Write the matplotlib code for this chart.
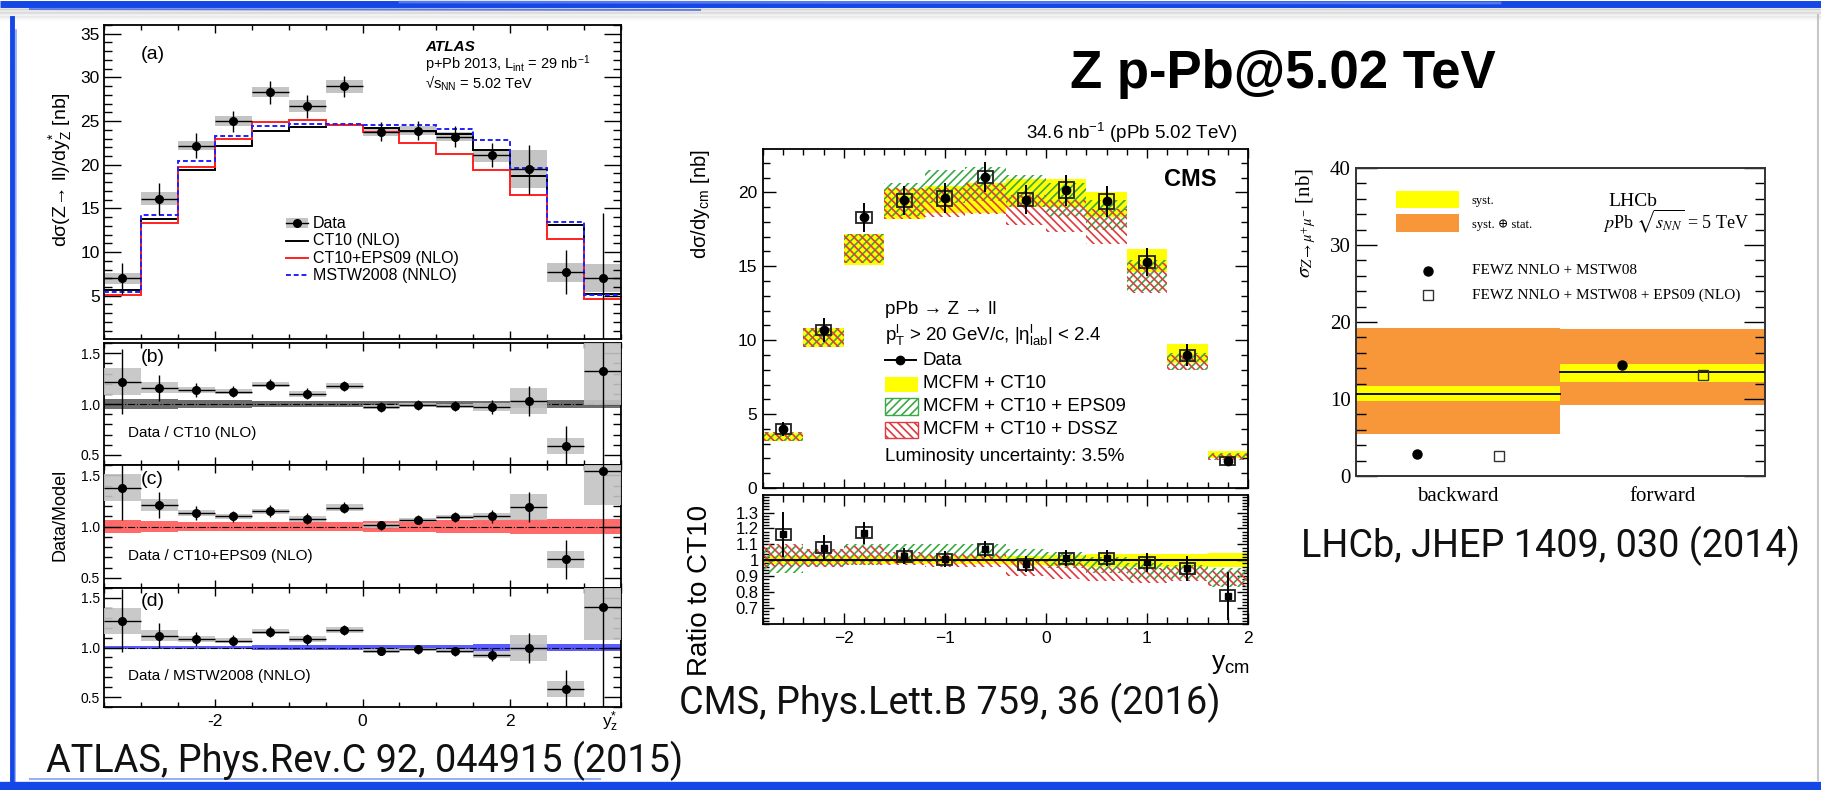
import numpy as np
import matplotlib
matplotlib.use("Agg")
import matplotlib.pyplot as plt
from matplotlib.patches import Rectangle
from matplotlib.lines import Line2D
from matplotlib.ticker import MultipleLocator, FixedLocator, NullFormatter, FuncFormatter

plt.rcParams["font.family"] = ["Liberation Sans", "DejaVu Sans"]
plt.rcParams["mathtext.fontset"] = "stix"
plt.rcParams["hatch.linewidth"] = 1.2
plt.rcParams["axes.unicode_minus"] = True

W, H = 1821, 790

# ---------------- ATLAS (Phys.Rev.C 92, 044915) ----------------
atlas_edges = [-3.5, -3.0, -2.5, -2.0, -1.5, -1.0, -0.5, 0.0, 0.5, 1.0, 1.5, 2.0, 2.5, 3.0, 3.5]
atlas_data = [7.0, 16.1, 22.2, 25.0, 28.3, 26.7, 29.0, 23.8, 23.9, 23.2, 21.1, 19.5, 7.7, 7.05]
atlas_stat = [1.8, 1.8, 1.4, 1.2, 1.3, 1.3, 1.2, 1.1, 1.1, 1.2, 1.4, 2.8, 2.5, 7.4]
atlas_syst = [0.6, 0.75, 0.55, 0.55, 0.6, 0.7, 0.75, 0.5, 0.5, 0.5, 0.75, 2.2, 1.1, 1.6]
atlas_ct10 = [5.65, 13.8, 19.4, 22.2, 23.9, 24.3, 24.6, 24.2, 23.9, 23.55, 21.7, 18.7, 13.1, 5.25]
atlas_eps09 = [5.05, 13.3, 19.7, 22.9, 24.9, 25.1, 24.6, 23.7, 22.5, 21.25, 19.4, 16.55, 11.45, 4.6]
atlas_mstw = [5.45, 14.25, 20.45, 23.25, 24.4, 24.65, 24.65, 24.6, 24.5, 24.1, 22.8, 19.6, 13.4, 5.05]

ratio_ct10 = [1.22, 1.16, 1.14, 1.12, 1.19, 1.10, 1.18, 0.97, 0.99, 0.98, 0.97, 1.03, 0.59, 1.32]
ratio_eps09 = [1.38, 1.21, 1.13, 1.10, 1.15, 1.075, 1.185, 1.01, 1.065, 1.09, 1.10, 1.19, 0.68, 1.54]
ratio_mstw = [1.27, 1.12, 1.085, 1.07, 1.16, 1.085, 1.18, 0.965, 0.98, 0.96, 0.925, 0.995, 0.58, 1.405]
ratio_stat = [0.32, 0.13, 0.07, 0.055, 0.055, 0.055, 0.05, 0.045, 0.045, 0.05, 0.065, 0.15, 0.19, 1.4]
ratio_syst = [0.13, 0.055, 0.03, 0.025, 0.025, 0.03, 0.03, 0.02, 0.02, 0.02, 0.035, 0.13, 0.08, 0.33]
band_ct10 = [0.048, 0.045, 0.04, 0.035, 0.03, 0.028, 0.027, 0.027, 0.027, 0.03, 0.032, 0.035, 0.04, 0.04]
band_eps09 = [0.065, 0.055, 0.045, 0.044, 0.044, 0.044, 0.045, 0.05, 0.055, 0.06, 0.065, 0.07, 0.077, 0.077]
band_mstw = [0.018, 0.018, 0.02, 0.02, 0.022, 0.024, 0.025, 0.027, 0.028, 0.03, 0.032, 0.034, 0.037, 0.037]

# ---------------- CMS (Phys.Lett.B 759, 36) ----------------
cms_edges = [-2.8, -2.4, -2.0, -1.6, -1.2, -0.8, -0.4, 0.0, 0.4, 0.8, 1.2, 1.6, 2.0]
cms_data = [4.0, 10.7, 18.3, 19.45, 19.6, 21.05, 19.5, 20.15, 19.4, 15.3, 8.98, 1.83]
cms_stat = [0.45, 0.8, 1.0, 1.0, 1.0, 1.0, 1.0, 1.05, 1.05, 0.95, 0.75, 0.3]
cms_syst = [0.33, 0.35, 0.4, 0.45, 0.5, 0.42, 0.45, 0.55, 0.5, 0.42, 0.38, 0.25]
cms_ct10_lo = [3.2, 9.55, 15.1, 18.2, 18.6, 18.6, 19.0, 19.0, 18.35, 14.6, 8.45, 2.0]
cms_ct10_hi = [3.75, 10.85, 17.2, 20.2, 20.4, 20.6, 20.9, 20.9, 20.0, 16.15, 9.75, 2.5]
cms_eps09_lo = [3.2, 9.55, 15.2, 18.4, 19.3, 19.4, 19.0, 18.3, 17.45, 13.3, 7.97, 1.87]
cms_eps09_hi = [3.8, 10.85, 17.2, 20.6, 21.5, 21.7, 21.15, 20.6, 19.5, 15.45, 9.1, 2.35]
cms_dssz_lo = [3.2, 9.55, 15.2, 18.2, 18.3, 18.5, 17.8, 17.3, 16.5, 13.2, 7.97, 1.9]
cms_dssz_hi = [3.8, 10.85, 17.2, 20.3, 20.3, 20.6, 19.8, 19.5, 18.9, 15.2, 9.0, 2.3]

cms_ratio = [1.163, 1.078, 1.172, 1.025, 1.006, 1.07, 0.975, 1.013, 1.013, 0.987, 0.95, 0.778]
cms_ratio_err = [0.14, 0.08, 0.07, 0.05, 0.05, 0.05, 0.05, 0.05, 0.05, 0.06, 0.08, 0.15]
cms_ratio_syst = [0.035, 0.035, 0.035, 0.035, 0.035, 0.035, 0.035, 0.035, 0.035, 0.035, 0.035, 0.035]
cms_rct10_lo = [0.975, 0.975, 0.975, 0.975, 0.975, 0.975, 0.97, 0.965, 0.96, 0.96, 0.96, 0.955]
cms_rct10_hi = [1.025, 1.025, 1.025, 1.025, 1.025, 1.025, 1.03, 1.035, 1.04, 1.04, 1.04, 1.045]
cms_reps_lo = [0.92, 0.96, 0.97, 0.99, 0.99, 1.0, 0.98, 0.95, 0.92, 0.88, 0.88, 0.83]
cms_reps_hi = [1.09, 1.07, 1.1, 1.1, 1.1, 1.1, 1.07, 1.05, 1.02, 0.98, 0.97, 0.95]
cms_rdssz_lo = [0.96, 0.96, 0.97, 0.97, 0.96, 0.96, 0.9, 0.88, 0.87, 0.86, 0.87, 0.84]
cms_rdssz_hi = [1.1, 1.07, 1.09, 1.05, 1.04, 1.04, 1.0, 0.98, 0.96, 0.95, 0.96, 0.93]

# ---------------- LHCb (JHEP 1409, 030) ----------------
lhcb_cats = ["backward", "forward"]
lhcb_val = [10.7, 13.5]
lhcb_syst_lo = [9.76, 12.25]
lhcb_syst_hi = [11.65, 14.6]
lhcb_tot_lo = [5.4, 9.2]
lhcb_tot_hi = [19.2, 19.05]
lhcb_fewz = [2.8, 14.45]
lhcb_fewz_eps09 = [2.6, 13.1]

fig = plt.figure(figsize=(W / 100, H / 100), dpi=100)
fig.patch.set_facecolor("white")


def rect(l, t, r, b):
    return [l / W, 1 - b / H, (r - l) / W, (b - t) / H]


def ftext(x, y, s, **kw):
    return fig.text(x / W, 1 - y / H, s, **kw)


def root_ticks(ax, ymaj, ymin, xmaj, xmin, ylen=12, xlen=6):
    ax.tick_params(which="both", direction="in", top=True, right=True, width=1.0, colors="k")
    ax.tick_params(axis="y", which="major", length=ylen)
    ax.tick_params(axis="y", which="minor", length=ylen * 0.5)
    ax.tick_params(axis="x", which="major", length=xlen)
    ax.tick_params(axis="x", which="minor", length=xlen * 0.65)
    ax.yaxis.set_major_locator(ymaj)
    ax.yaxis.set_minor_locator(ymin)
    ax.xaxis.set_major_locator(xmaj)
    ax.xaxis.set_minor_locator(xmin)
    for s in ax.spines.values():
        s.set_linewidth(1.3)


# ================= ATLAS =================
edges = np.array(atlas_edges)
centers = 0.5 * (edges[1:] + edges[:-1])
data = np.array(atlas_data)
gray = "#c4c4c4"

axa = fig.add_axes(rect(104, 25, 621, 339))
axa.bar(centers, 2 * np.array(atlas_syst), bottom=data - np.array(atlas_syst),
        width=0.5, color=gray, lw=0, zorder=1)
axa.stairs(atlas_ct10, edges, baseline=None, color="k", lw=1.4, zorder=2)
axa.stairs(atlas_eps09, edges, baseline=None, color="#ff2020", lw=1.4, zorder=2)
axa.stairs(atlas_mstw, edges, baseline=None, color="#2020ff", lw=1.4, ls=(0, (2.5, 1.5)), zorder=3)
axa.errorbar(centers, data, yerr=atlas_stat, xerr=0.25, fmt="o", color="k", ms=5.5,
             elinewidth=1.0, capsize=0, zorder=4)
axa.set_xlim(-3.5, 3.5)
axa.set_ylim(0.05, 36)
root_ticks(axa, MultipleLocator(5), MultipleLocator(1), FixedLocator([-2, 0, 2]), MultipleLocator(0.5))
axa.set_yticks([5, 10, 15, 20, 25, 30, 35])
axa.xaxis.set_major_formatter(NullFormatter())
axa.tick_params(axis="y", labelsize=12.5, pad=3)
axa.text(-3.0, 32.6, "(a)", fontsize=14, va="center")
axa.text(0.85, 33.5, "ATLAS", fontsize=11, weight="bold", style="italic", va="center")
axa.text(0.85, 31.5, r"p+Pb 2013, L$\mathregular{_{int}}$ = 29 nb$\mathregular{^{-1}}$", fontsize=10.5, va="center")
axa.text(0.85, 29.35, r"√s$\mathregular{_{NN}}$ = 5.02 TeV", fontsize=10.5, va="center")

# legend drawn by hand
lgx = -1.04
axa.add_patch(Rectangle((lgx, 12.75), 0.3, 1.1, color=gray, lw=0))
axa.plot([lgx, lgx + 0.3], [13.3, 13.3], color="k", lw=1.0)
axa.plot([lgx + 0.15], [13.3], "o", color="k", ms=5.5)
axa.plot([lgx, lgx + 0.3], [11.3, 11.3], color="k", lw=1.4)
axa.plot([lgx, lgx + 0.3], [9.3, 9.3], color="#ff2020", lw=1.4)
axa.plot([lgx, lgx + 0.3], [7.33, 7.33], color="#2020ff", lw=1.4, ls=(0, (2.5, 1.5)))
for yy, s in zip([13.3, 11.3, 9.3, 7.33], ["Data", "CT10 (NLO)", "CT10+EPS09 (NLO)", "MSTW2008 (NNLO)"]):
    axa.text(lgx + 0.37, yy, s, fontsize=11.5, va="center")

ratio_specs = [
    (rect(104, 343, 621, 465), ratio_ct10, band_ct10, "#555555", 0.85, "Data / CT10 (NLO)", "(b)"),
    (rect(104, 465, 621, 588), ratio_eps09, band_eps09, "#ff5050", 0.85, "Data / CT10+EPS09 (NLO)", "(c)"),
    (rect(104, 588, 621, 707), ratio_mstw, band_mstw, "#4040ff", 0.85, "Data / MSTW2008 (NNLO)", "(d)"),
]
rsyst = np.array(ratio_syst)
for k, (pos, ratio, band, bcol, balpha, lab, tag) in enumerate(ratio_specs):
    ax = fig.add_axes(pos)
    ratio = np.array(ratio)
    band = np.array(band)
    ax.bar(centers, 2 * band, bottom=1 - band, width=0.5, color=bcol, alpha=balpha, lw=0, zorder=1)
    ax.axhline(1.0, color="k", lw=0.8, ls="-.", zorder=2)
    ax.bar(centers, 2 * rsyst, bottom=ratio - rsyst, width=0.5, color=gray, alpha=0.9, lw=0, zorder=3)
    ax.errorbar(centers, ratio, yerr=ratio_stat, xerr=0.25, fmt="o", color="k", ms=5.5,
                elinewidth=1.0, capsize=0, zorder=4)
    ax.set_xlim(-3.5, 3.5)
    ax.set_ylim(0.4, 1.6)
    root_ticks(ax, FixedLocator([0.5, 1.0, 1.5]), MultipleLocator(0.1),
               FixedLocator([-2, 0, 2]), MultipleLocator(0.5))
    ax.yaxis.set_major_formatter(FuncFormatter(lambda v, p: f"{v:.1f}"))
    ax.tick_params(axis="y", labelsize=10, pad=3)
    ax.text(-3.17, 0.71, lab, fontsize=11, va="center")
    ax.text(-3.0, 1.46, tag, fontsize=14, va="center")
    if k < 2:
        ax.xaxis.set_major_formatter(NullFormatter())
    else:
        ax.tick_params(axis="x", labelsize=12.5, pad=5)
        ax.set_xticklabels(["-2", "0", "2"])

ftext(61, 170, r"dσ(Z→ ll)/dy$\mathregular{^{*}_{Z}}$ [nb]", rotation=90, fontsize=14,
      ha="center", va="center")
ftext(60, 515, "Data/Model", rotation=90, fontsize=13, ha="center", va="center")
ftext(610, 722, r"y$\mathregular{^{*}_{z}}$", fontsize=12.5, ha="center", va="center")

# ================= CMS =================
cedges = np.array(cms_edges)
ccent = 0.5 * (cedges[1:] + cedges[:-1])
cwidth = 0.4
yellow = "#ffff00"
green = "#3aa845"
red = "#e0393e"

axc = fig.add_axes(rect(763, 149, 1248, 488))
lo, hi = np.array(cms_ct10_lo), np.array(cms_ct10_hi)
axc.bar(ccent, hi - lo, bottom=lo, width=cwidth, color=yellow, lw=0, zorder=1)
lo, hi = np.array(cms_eps09_lo), np.array(cms_eps09_hi)
axc.bar(ccent, hi - lo, bottom=lo, width=cwidth, facecolor="none", edgecolor=green, hatch="////", lw=0, zorder=2)
lo, hi = np.array(cms_dssz_lo), np.array(cms_dssz_hi)
axc.bar(ccent, hi - lo, bottom=lo, width=cwidth, facecolor="none", edgecolor=red, hatch="\\\\\\\\", lw=0, zorder=2)
for xc, yc, s in zip(ccent, cms_data, cms_syst):
    axc.add_patch(Rectangle((xc - 0.075, yc - s), 0.15, 2 * s, fill=False, ec="#222222", lw=1.3, zorder=4))
axc.errorbar(ccent, cms_data, yerr=cms_stat, fmt="o", color="k", ms=6, elinewidth=1.4, capsize=0, zorder=5)
axc.set_xlim(-2.8, 2.0)
axc.set_ylim(0, 22.93)
root_ticks(axc, MultipleLocator(5), MultipleLocator(1), MultipleLocator(1), MultipleLocator(0.2), ylen=9.5, xlen=6.5)
axc.xaxis.set_major_formatter(NullFormatter())
axc.tick_params(axis="y", labelsize=12.5, pad=4)
axc.text(1.69, 20.85, "CMS", fontsize=17, weight="bold", ha="right", va="center")

# CMS legend
lx = -1.59
axc.text(lx, 12.1, "pPb → Z → ll", fontsize=13.5, va="center")
axc.text(lx, 10.3, r"$\mathregular{p_{T}^{l}}$ > 20 GeV/c, $\mathregular{|η^{l}_{lab}|}$ < 2.4", fontsize=13.5, va="center")
axc.plot([lx, lx + 0.3], [8.65, 8.65], color="k", lw=1.4)
axc.plot([lx + 0.15], [8.65], "o", color="k", ms=6)
axc.text(-1.22, 8.65, "Data", fontsize=13.5, va="center")
axc.add_patch(Rectangle((lx, 6.5), 0.32, 1.0, color=yellow, lw=0))
axc.text(-1.22, 7.05, "MCFM + CT10", fontsize=13.5, va="center")
axc.add_patch(Rectangle((lx, 4.93), 0.32, 1.15, facecolor="none", edgecolor=green, hatch="////", lw=0))
axc.add_patch(Rectangle((lx, 4.93), 0.32, 1.15, fill=False, edgecolor=green, lw=1.0))
axc.text(-1.22, 5.5, "MCFM + CT10 + EPS09", fontsize=13.5, va="center")
axc.add_patch(Rectangle((lx, 3.35), 0.32, 1.12, facecolor="none", edgecolor=red, hatch="\\\\\\\\", lw=0))
axc.add_patch(Rectangle((lx, 3.35), 0.32, 1.12, fill=False, edgecolor=red, lw=1.0))
axc.text(-1.22, 3.95, "MCFM + CT10 + DSSZ", fontsize=13.5, va="center")
axc.text(lx, 2.15, "Luminosity uncertainty: 3.5%", fontsize=13.5, va="center")

ftext(1237, 133, r"34.6 nb$\mathregular{^{-1}}$ (pPb 5.02 TeV)", fontsize=13.5, ha="right", va="center")
ftext(700, 149, r"dσ/dy$\mathregular{_{cm}}$ [nb]", rotation=90, fontsize=14.5, ha="center", va="top")

axr = fig.add_axes(rect(763, 495, 1248, 624))
lo, hi = np.array(cms_rct10_lo), np.array(cms_rct10_hi)
axr.bar(ccent, hi - lo, bottom=lo, width=cwidth, color=yellow, lw=0, zorder=1)
lo, hi = np.array(cms_reps_lo), np.array(cms_reps_hi)
axr.bar(ccent, hi - lo, bottom=lo, width=cwidth, facecolor="none", edgecolor=green, hatch="////", lw=0, zorder=2)
lo, hi = np.array(cms_rdssz_lo), np.array(cms_rdssz_hi)
axr.bar(ccent, hi - lo, bottom=lo, width=cwidth, facecolor="none", edgecolor=red, hatch="\\\\\\\\", lw=0, zorder=2)
axr.axhline(1.0, color="k", lw=1.5, zorder=3)
for xc, yc, s in zip(ccent, cms_ratio, cms_ratio_syst):
    axr.add_patch(Rectangle((xc - 0.075, yc - s), 0.15, 2 * s, fill=False, ec="#222222", lw=1.3, zorder=4))
axr.errorbar(ccent, cms_ratio, yerr=cms_ratio_err, fmt="s", color="k", ms=5, elinewidth=1.4, capsize=0, zorder=5)
axr.set_xlim(-2.8, 2.0)
axr.set_ylim(0.6, 1.41)
root_ticks(axr, MultipleLocator(0.1), MultipleLocator(0.02), MultipleLocator(1), MultipleLocator(0.2), ylen=8, xlen=8)
axr.set_yticks([0.7, 0.8, 0.9, 1.0, 1.1, 1.2, 1.3])
axr.yaxis.set_major_formatter(FuncFormatter(lambda v, p: f"{v:g}"))
axr.tick_params(axis="y", labelsize=12, pad=3)
axr.tick_params(axis="x", labelsize=12.5, pad=5)
ftext(700, 590, "Ratio to CT10", rotation=90, fontsize=20, ha="center", va="center")
ftext(1250, 664, r"y$\mathregular{_{cm}}$", fontsize=19, ha="right", va="center")

# ================= LHCb =================
serif = ["Liberation Serif", "DejaVu Serif"]
axl = fig.add_axes(rect(1356, 168, 1764.5, 476))
xi = np.arange(len(lhcb_cats))
tlo, thi = np.array(lhcb_tot_lo), np.array(lhcb_tot_hi)
slo, shi = np.array(lhcb_syst_lo), np.array(lhcb_syst_hi)
axl.bar(xi + 0.5, thi - tlo, bottom=tlo, width=1.0, color="#f8973a", lw=0, zorder=1)
axl.bar(xi + 0.5, shi - slo, bottom=slo, width=1.0, color=yellow, lw=0, zorder=2)
for i, v in enumerate(lhcb_val):
    axl.plot([i, i + 1], [v, v], color="k", lw=1.3, zorder=3)
axl.plot(xi + 0.3, lhcb_fewz, "o", color="k", ms=6.5, zorder=4)
axl.plot(xi + 0.7, lhcb_fewz_eps09, "s", mfc="none", mec="#333333", mew=1.0, ms=7, zorder=4)
axl.set_xlim(0, 2)
axl.set_ylim(0, 40)
axl.yaxis.set_major_locator(MultipleLocator(10))
axl.yaxis.set_minor_locator(MultipleLocator(2))
axl.set_xticks(xi + 0.5)
axl.set_xticklabels(lhcb_cats)
axl.tick_params(axis="x", length=0, labelsize=15, pad=8, labelfontfamily="Liberation Serif")
axl.tick_params(axis="y", which="both", direction="in", left=True, right=True, width=1.0,
                labelsize=15, labelfontfamily="Liberation Serif", pad=4)
axl.tick_params(axis="y", which="major", length=15)
axl.tick_params(axis="y", which="minor", length=7.5)
for s in axl.spines.values():
    s.set_linewidth(1.4)
    s.set_color("#333333")

axl.add_patch(Rectangle((0.196, 34.8), 0.308, 2.16, color=yellow, lw=0))
axl.add_patch(Rectangle((0.196, 31.75), 0.308, 2.3, color="#f8973a", lw=0))
axl.text(0.566, 35.65, "syst.", fontsize=9, family=serif, va="center")
axl.text(0.566, 32.6, "syst. ⊕ stat.", fontsize=9, family=serif, va="center")
axl.text(1.234, 35.65, "LHCb", fontsize=14, family=serif, va="center")
axl.text(1.21, 33.05, r"$p$Pb $\sqrt{s_{NN}}$ = 5 TeV", fontsize=13, family=serif, va="center")
axl.plot([0.353], [26.68], "o", color="k", ms=6.5)
axl.plot([0.353], [23.5], "s", mfc="none", mec="#333333", mew=1.0, ms=7)
axl.text(0.566, 26.68, "FEWZ NNLO + MSTW08", fontsize=11, family=serif, va="center")
axl.text(0.566, 23.5, "FEWZ NNLO + MSTW08 + EPS09 (NLO)", fontsize=11, family=serif, va="center")
ftext(1306, 168, r"$\sigma_{Z\rightarrow\mu^{+}\mu^{-}}$ [nb]", rotation=90, fontsize=15,
      family=serif, ha="center", va="top")

# ================= titles and citations =================
ftext(1283, 74, "Z p-Pb@5.02 TeV", fontsize=38, weight="bold", ha="center", va="center")
cite = dict(fontsize=27.3, family=["Roboto", "DejaVu Sans"], weight="normal", color="#111111", va="center")
ftext(46, 761, "ATLAS, Phys.Rev.C 92, 044915 (2015)", ha="left", **cite)
ftext(679, 703, "CMS, Phys.Lett.B 759, 36 (2016)", ha="left", **cite)
ftext(1301, 546, "LHCb, JHEP 1409, 030 (2014)", ha="left", **cite)

# ================= hand drawn frame =================
blue = "#1546e6"


def fline(xs, ys, **kw):
    fig.add_artist(Line2D([x / W for x in xs], [1 - y / H for y in ys], **kw))


for k in range(10):
    fline([0, W], [9 + 1.3 * k, 9 + 1.3 * k], color="#808080", lw=1.3, alpha=0.22 * (1 - k / 10))
fline([0, W], [4, 4], color=blue, lw=5, solid_capstyle="butt")
fline([30, 700], [9, 10], color=blue, lw=1.5, alpha=0.6)
fline([400, 1500], [2, 3], color="#6f8ff0", lw=2, alpha=0.7)
fline([12, 12], [18, 790], color=blue, lw=3.5)
fline([16, 15], [30, 785], color="#5a80f0", lw=1.2, alpha=0.7)
fline([0, W], [786, 786], color=blue, lw=6, solid_capstyle="butt")
fline([30, 600], [779, 779], color="#6f8ff0", lw=1.5, alpha=0.7)
fline([1818, 1818], [15, 780], color="#b0b0b0", lw=1.5, alpha=0.7)

fig.savefig("out.png", dpi=100)
